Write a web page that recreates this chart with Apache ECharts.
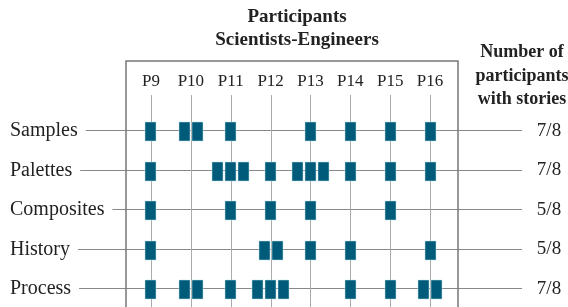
<!DOCTYPE html>
<html>
<head>
<meta charset="utf-8">
<script src="https://cdn.jsdelivr.net/npm/echarts@6/dist/echarts.min.js"></script>
<style>
  html, body { margin: 0; padding: 0; background: #fff; }
  #main { width: 568px; height: 307px; }
</style>
</head>
<body>
<div id="main"></div>
<script>
const columns = ["P9", "P10", "P11", "P12", "P13", "P14", "P15", "P16"];
const rows = ["Samples", "Palettes", "Composites", "History", "Process"];
// stories per participant, one array per row
const samples = [1, 2, 1, 0, 1, 1, 1, 1];
const palettes = [1, 0, 3, 1, 3, 1, 1, 1];
const composites = [1, 0, 1, 1, 1, 0, 1, 0];
const history = [1, 0, 0, 2, 1, 1, 0, 1];
const process = [1, 2, 1, 3, 0, 1, 1, 2];
const totals = ["7/8", "7/8", "5/8", "5/8", "7/8"];

const counts = [samples, palettes, composites, history, process];
const serif = "'Liberation Serif', 'DejaVu Serif', serif";
const markColor = "#005b7a";

var marks = [];
counts.forEach(function (row, r) {
  row.forEach(function (n, c) {
    for (var k = 0; k < n; k++) marks.push([c, r, k, n]);
  });
});

function crisp(v) { return Math.round(v) + 0.5; }

const options = {
  animation: false,
  title: [
    {
      text: "Participants\nScientists-Engineers",
      left: 292, top: 1, textAlign: "center",
      textStyle: { fontFamily: serif, fontWeight: "bold", fontSize: 19, lineHeight: 23, color: "#222" }
    },
    {
      text: "Number of\nparticipants\nwith stories",
      left: 517, top: 36, textAlign: "center",
      textStyle: { fontFamily: serif, fontWeight: "bold", fontSize: 18, lineHeight: 23.5, color: "#222" }
    }
  ],
  grid: { left: 126, top: 61, width: 332, height: 246, show: false },
  xAxis: { type: "value", min: -0.627, max: 7.7, show: false },
  yAxis: { type: "value", inverse: true, min: -1.747, max: 4.481, show: false },
  series: [
    {
      // row labels, horizontal rules and totals
      type: "custom",
      data: rows.map(function (name, r) { return [0, r]; }),
      renderItem: function (params, api) {
        var r = api.value(1);
        var y = api.coord([0, r])[1];
        var children = [
          { type: "line", shape: { x1: 10, y1: crisp(y), x2: 522, y2: crisp(y) },
            style: { stroke: "#888", lineWidth: 1 } },
          { type: "text", x: 10, y: y + 1,
            style: { text: rows[r], font: "20px " + serif, fill: "#222",
                     verticalAlign: "middle", align: "left",
                     backgroundColor: "#fff", padding: [2, 8, 2, 0] } },
          { type: "text", x: 549, y: y + 1,
            style: { text: totals[r], font: "19px " + serif, fill: "#222",
                     verticalAlign: "middle", align: "center" } }
        ];
        if (r === 0) {
          // open box round the participant columns
          var tl = api.coord([-0.627, -1.747]);
          var br = api.coord([7.7, 4.481]);
          children.push({
            type: "polyline", z2: 5,
            shape: { points: [[tl[0], br[1] + 20], [tl[0], tl[1]], [br[0], tl[1]], [br[0], br[1] + 20]] },
            style: { stroke: "#777", lineWidth: 1.5, fill: null }
          });
        }
        return { type: "group", children: children };
      },
      z: 1
    },
    {
      // column labels and vertical rules
      type: "custom",
      data: columns.map(function (name, c) { return [c, 0]; }),
      renderItem: function (params, api) {
        var c = api.value(0);
        var p = api.coord([c, 0]);
        return {
          type: "group",
          children: [
            { type: "line", shape: { x1: crisp(p[0]), y1: p[1] - 35, x2: crisp(p[0]), y2: 330 },
              style: { stroke: "#aaa", lineWidth: 1 } },
            { type: "text", x: p[0], y: p[1] - 48,
              style: { text: columns[c], font: "17px " + serif, fill: "#222",
                       verticalAlign: "middle", align: "center" } }
          ]
        };
      },
      z: 2
    },
    {
      // one block per story
      type: "custom",
      data: marks,
      renderItem: function (params, api) {
        var p = api.coord([api.value(0), api.value(1)]);
        var k = api.value(2), n = api.value(3);
        var cx = p[0] + (k - (n - 1) / 2) * 13;
        return {
          type: "rect",
          shape: { x: Math.round(cx - 5.5), y: Math.round(p[1] - 8), width: 11, height: 19 },
          style: { fill: markColor, stroke: "#bfe3ef", lineWidth: 0.5 }
        };
      },
      z: 3
    }
  ]
};

var myChart = echarts.init(document.getElementById("main"));
myChart.setOption(options);
window.onresize = function () { myChart.resize(); };
</script>
</body>
</html>
